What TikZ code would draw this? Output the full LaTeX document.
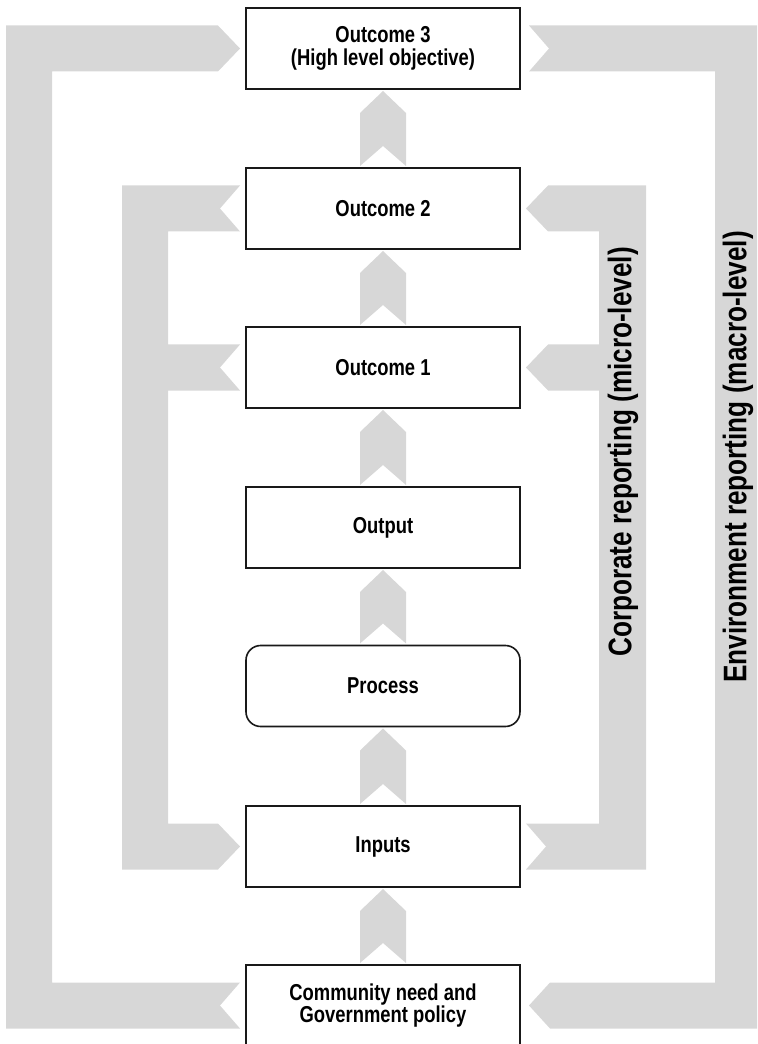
\documentclass[tikz,border=0pt]{standalone}
\usepackage{fontspec}
\newfontfamily\narrowsans{Liberation Sans}[FakeStretch=0.8]
\usetikzlibrary{calc}
\definecolor{bandgray}{RGB}{215,215,215}
\newcommand{\chev}[2]{\fill[band] ($(#2.south)+(0,2)$) -- ++(23,22) -- ($(#1.north)+(23,-2)$) -- ($(#1.north)+(0,-22)$) -- ($(#1.north)+(-23,-2)$) -- ($(#2.south)+(-23,24)$) -- cycle;}

\begin{document}
\begin{tikzpicture}[x=0.75pt, y=-0.75pt,
    stage/.style={draw=black!90, line width=1.2pt, fill=white, minimum width=205.5pt, minimum height=60.75pt, inner sep=2pt, outer sep=0pt, align=center, font=\narrowsans\bfseries\fontsize{17.25}{17}\selectfont},
    band/.style={fill=bandgray},
    side/.style={rotate=90, inner sep=0pt, font=\narrowsans\bfseries\fontsize{24.5}{26}\selectfont}]
    \useasboundingbox (0,0) rectangle (757,1044);
    \clip (0,0) rectangle (757,1044);

    \node[stage] (o3) at (383,48.5) {Outcome 3\\(High level objective)};
    \node[stage] (o2) at (383,208.5) {Outcome 2}; \node[stage] (o1) at (383,367.5) {Outcome 1};
    \node[stage] (out) at (383,527.5) {Output}; \node[stage, rounded corners=11pt] (proc) at (383,686) {Process};
    \node[stage] (inp) at (383,846.5) {Inputs};
    \node[stage] (comm) at (383,1005.5) {Community need and\\Government policy};

    \chev{comm}{inp} \chev{inp}{proc} \chev{proc}{out}
    \chev{out}{o1} \chev{o1}{o2} \chev{o2}{o3}

    \fill[band] ($(comm.west)+(-6,-23)$) -| ($(o3.west)+(-194,23)$) -- ($(o3.west)+(-28,23)$) -- ($(o3.west)+(-6,0)$) -- ($(o3.west)+(-28,-23)$) -| ($(comm.west)+(-240,23)$) -- ($(comm.west)+(-6,23)$) -- ($(comm.west)+(-26,0)$) -- cycle;
    \fill[band] ($(o2.west)+(-6,-23)$) -| ($(inp.west)+(-124,23)$) -- ($(inp.west)+(-28,23)$) -- ($(inp.west)+(-6,0)$) -- ($(inp.west)+(-28,-23)$) -| ($(o1.west)+(-78,23)$) -- ($(o1.west)+(-6,23)$) -- ($(o1.west)+(-26,0)$) -- ($(o1.west)+(-6,-23)$) -| ($(o2.west)+(-78,23)$) -- ($(o2.west)+(-6,23)$) -- ($(o2.west)+(-26,0)$) -- cycle;
    \fill[band] ($(o2.east)+(6,0)$) -- ($(o2.east)+(28,-23)$) -| ($(inp.east)+(126,23)$) -- ($(inp.east)+(6,23)$) -- ($(inp.east)+(26,0)$) -- ($(inp.east)+(6,-23)$) -| ($(o1.east)+(79,23)$) -- ($(o1.east)+(28,23)$) -- ($(o1.east)+(6,0)$) -- ($(o1.east)+(28,-23)$) -| ($(o2.east)+(79,23)$) -- ($(o2.east)+(28,23)$) -- cycle;
    \fill[band] ($(o3.east)+(9,-23)$) -| ($(comm.east)+(241,23)$) -- ($(comm.east)+(30,23)$) -- ($(comm.east)+(9,0)$) -- ($(comm.east)+(30,-23)$) -| ($(o3.east)+(195,23)$) -- ($(o3.east)+(9,23)$) -- ($(o3.east)+(29,0)$) -- cycle;

    \node[side] (corp) at (623,452) {Corporate reporting (micro-level)};
    \node[side] (envi) at (738,457) {Environment reporting (macro-level)};
\end{tikzpicture}
\end{document}
